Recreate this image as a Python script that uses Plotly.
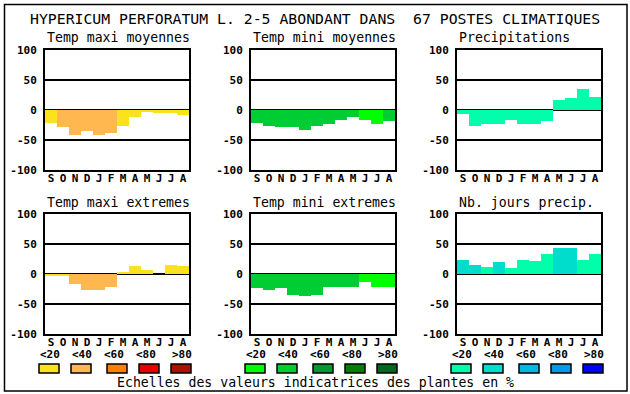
import plotly.graph_objects as go

W, H = 630, 394

months = ["S", "O", "N", "D", "J", "F", "M", "A", "M", "J", "J", "A"]
y_ticks = [-100, -50, 0, 50, 100]
y_tick_labels = ["-100", "-50", "0", "50", "100"]

title_main = "HYPERICUM PERFORATUM L. 2-5 ABONDANT DANS  67 POSTES CLIMATIQUES"
panel_titles = ["Temp maxi moyennes", "Temp mini moyennes", "Precipitations",
                "Temp maxi extremes", "Temp mini extremes", "Nb. jours precip."]
legend_labels = ["<20", "<40", "<60", "<80", ">80"]
footer = "Echelles des valeurs indicatrices des plantes en %"

# palettes (indicator value classes)
pal_tmax = ["#FAE31C", "#FFB84F", "#FF8000", "#E80000", "#B01000"]
pal_tmin = ["#00FF00", "#00CC33", "#009933", "#008000", "#006622"]
pal_prec = ["#00FFAA", "#00DDCC", "#00BBDD", "#0099EE", "#0000FF"]

# series values (%)
tmax_moy = [-21, -28, -41, -35, -41, -38, -26, -11, -3, -5, -5, -8]
tmax_moy_cls = [0, 1, 1, 1, 1, 1, 0, 0, 0, 0, 0, 0]
tmin_moy = [-21, -26, -28, -28, -33, -26, -24, -16, -11, -16, -23, -18]
tmin_moy_cls = [1, 1, 1, 1, 1, 1, 1, 1, 1, 0, 0, 1]
prec = [-6, -26, -24, -23, -16, -23, -23, -18, 17, 20, 35, 22]
prec_cls = [0] * 12
tmax_ext = [-2, -2, -16, -26, -26, -21, 2, 13, 6, 0, 15, 13]
tmax_ext_cls = [0, 0, 1, 1, 1, 1, 0, 0, 0, 0, 0, 0]
tmin_ext = [-23, -26, -23, -35, -36, -35, -21, -21, -21, -13, -21, -21]
tmin_ext_cls = [1, 1, 1, 1, 1, 1, 1, 1, 1, 0, 0, 0]
jours = [23, 15, 12, 20, 10, 23, 22, 33, 43, 43, 23, 33]
jours_cls = [1, 1, 0, 1, 0, 0, 0, 0, 1, 1, 0, 0]

panels = [
    (tmax_moy, tmax_moy_cls, pal_tmax),
    (tmin_moy, tmin_moy_cls, pal_tmin),
    (prec, prec_cls, pal_prec),
    (tmax_ext, tmax_ext_cls, pal_tmax),
    (tmin_ext, tmin_ext_cls, pal_tmin),
    (jours, jours_cls, pal_prec),
]


def px(x):
    return x / W


def py(y):
    return 1 - y / H


col_left = [45, 251, 457]
plot_w = 144
row_top = [50, 214]
plot_h = 120

MONO = "DejaVu Sans Mono"
tick_font = dict(family=MONO, size=11, color="black", weight="bold")
text_font = dict(family=MONO, size=13.2, color="black")

fig = go.Figure()
layout = dict(
    width=W, height=H,
    margin=dict(l=0, r=0, t=0, b=0, pad=0, autoexpand=False),
    paper_bgcolor="white", plot_bgcolor="white", showlegend=False,
    bargap=0,
)
annotations = []
shapes = []

for i, (vals, cls, pal) in enumerate(panels):
    r, c = divmod(i, 3)
    n = "" if i == 0 else str(i + 1)
    x0 = col_left[c]
    y0 = row_top[r]
    fig.add_trace(go.Bar(
        x=list(range(12)), y=vals, width=1,
        marker=dict(color=[pal[k] for k in cls], line=dict(width=0)),
        xaxis="x" + n, yaxis="y" + n, hoverinfo="skip",
    ))
    layout["xaxis" + n] = dict(
        domain=[px(x0), px(x0 + plot_w)], anchor="y" + n,
        range=[-0.5, 11.5], tickvals=list(range(12)), ticktext=months,
        tickfont=tick_font, showline=True, mirror=True, linecolor="black",
        linewidth=2, showgrid=False, zeroline=False, ticks="", fixedrange=True,
        automargin=False, ticklabelstandoff=-3,
    )
    layout["yaxis" + n] = dict(
        domain=[py(y0 + plot_h), py(y0)], anchor="x" + n,
        range=[-100, 100], tickvals=y_ticks, ticktext=y_tick_labels,
        tickfont=tick_font, showline=True, mirror=True, linecolor="black",
        linewidth=2, showgrid=True, gridcolor="black", gridwidth=2,
        zeroline=True, zerolinecolor="black", zerolinewidth=2, ticks="",
        ticklabelstandoff=4, fixedrange=True, automargin=False,
    )
    annotations.append(dict(
        text=panel_titles[i], x=px(x0), y=py(y0 - 12), xref="paper", yref="paper",
        xanchor="left", yanchor="middle", showarrow=False, font=text_font,
    ))

annotations.append(dict(
    text=title_main, x=px(315), y=py(18), xref="paper", yref="paper",
    xanchor="center", yanchor="middle", showarrow=False,
    font=dict(family=MONO, size=14.8, color="black"),
))
annotations.append(dict(
    text=footer, x=px(115), y=py(382), xref="paper", yref="paper",
    xanchor="left", yanchor="middle", showarrow=False, font=text_font,
))

group_x = [39, 245, 451]
label_off = [0, 32, 64, 96, 132]
swatch_off = [0, 32, 68, 100, 132]
for g, pal in zip(group_x, [pal_tmax, pal_tmin, pal_prec]):
    for k in range(5):
        annotations.append(dict(
            text=legend_labels[k], x=px(g + label_off[k] - 1), y=py(354),
            xref="paper", yref="paper", xanchor="left", yanchor="middle",
            showarrow=False, font=tick_font,
        ))
        sx = g + swatch_off[k]
        shapes.append(dict(
            type="rect", xref="paper", yref="paper",
            x0=px(sx), x1=px(sx + 20), y0=py(373), y1=py(364),
            fillcolor=pal[k], line=dict(color="black", width=1.5),
        ))

shapes.append(dict(
    type="rect", xref="paper", yref="paper",
    x0=px(4.5), x1=px(627), y0=py(391), y1=py(4.5),
    line=dict(color="black", width=1.5), fillcolor="rgba(0,0,0,0)",
))

layout["annotations"] = annotations
layout["shapes"] = shapes
fig.update_layout(**layout)
fig.write_html(
    "out.html",
    config={"displayModeBar": False},
    post_script="document.body.style.margin='0px';document.body.style.overflow='hidden';",
)
